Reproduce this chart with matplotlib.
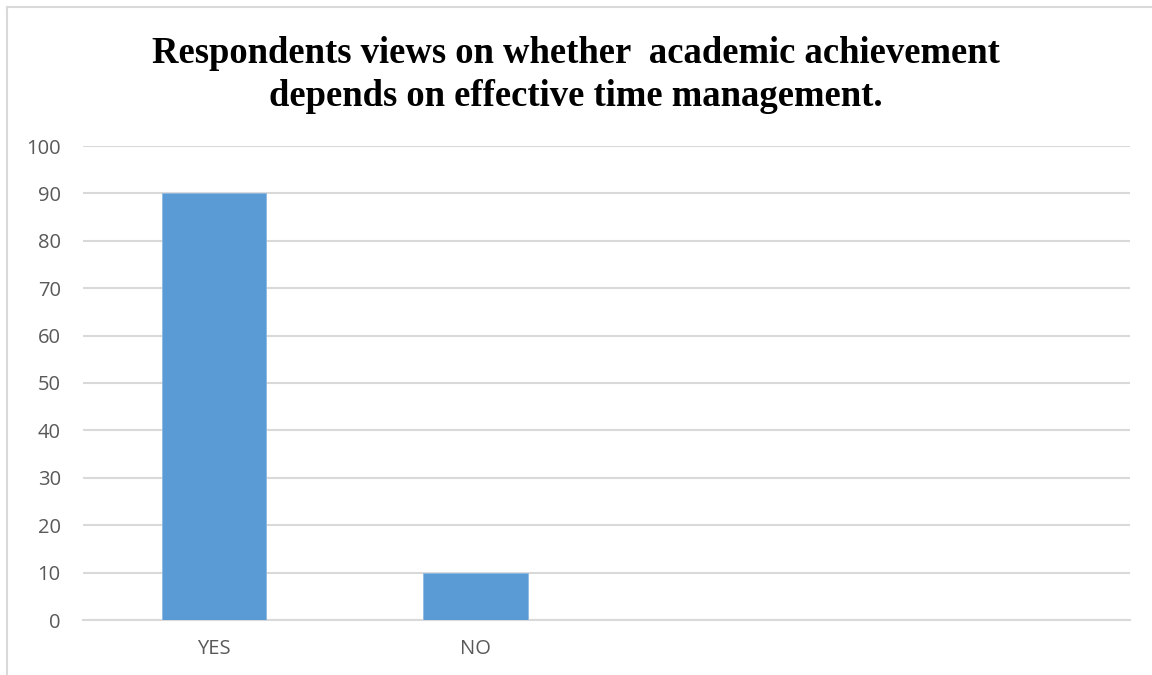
import matplotlib.pyplot as plt
from matplotlib.lines import Line2D

categories = ['YES', 'NO', '', '']
values = [90, 10, 0, 0]
yticks = list(range(0, 101, 10))
title = 'Respondents views on whether  academic achievement\ndepends on effective time management.'

fig = plt.figure(figsize=(11.52, 6.75), dpi=100)
ax = fig.add_axes([83 / 1152, 55 / 675, 1047 / 1152, 474 / 675])

x = list(range(len(categories)))
ax.bar(x[:2], values[:2], width=0.4, color='#5b9bd5', edgecolor='#8db8e3', linewidth=0.6, zorder=3)

ax.set_xlim(-0.5, len(categories) - 0.5)
ax.set_ylim(0, 100)
ax.set_yticks(yticks)
ax.set_xticks(x)
ax.set_xticklabels(categories)
ax.grid(axis='y', color='#d9d9d9', linewidth=1.5, zorder=0)
for s in ['top', 'right', 'left']:
    ax.spines[s].set_visible(False)
ax.spines['bottom'].set_color('#d9d9d9')
ax.spines['bottom'].set_linewidth(1.5)
ax.tick_params(length=0, labelcolor='#595959', labelsize=14.5)
ax.tick_params(axis='y', pad=16)
ax.tick_params(axis='x', pad=14)
for lab in ax.get_yticklabels() + ax.get_xticklabels():
    lab.set_family('Open Sans')

fig.text(576 / 1152, 1 - 36 / 675, title, ha='center', va='top',
         family='Liberation Serif', fontweight='bold', fontsize=26.4, linespacing=1.28)

# outer frame (only top and left edges visible)
fig.add_artist(Line2D([7 / 1152, 1], [1 - 7 / 675, 1 - 7 / 675], color='#d9d9d9', linewidth=1.5))
fig.add_artist(Line2D([7 / 1152, 7 / 1152], [0, 1 - 7 / 675], color='#d9d9d9', linewidth=1.5))

fig.savefig('out.png', dpi=100)
